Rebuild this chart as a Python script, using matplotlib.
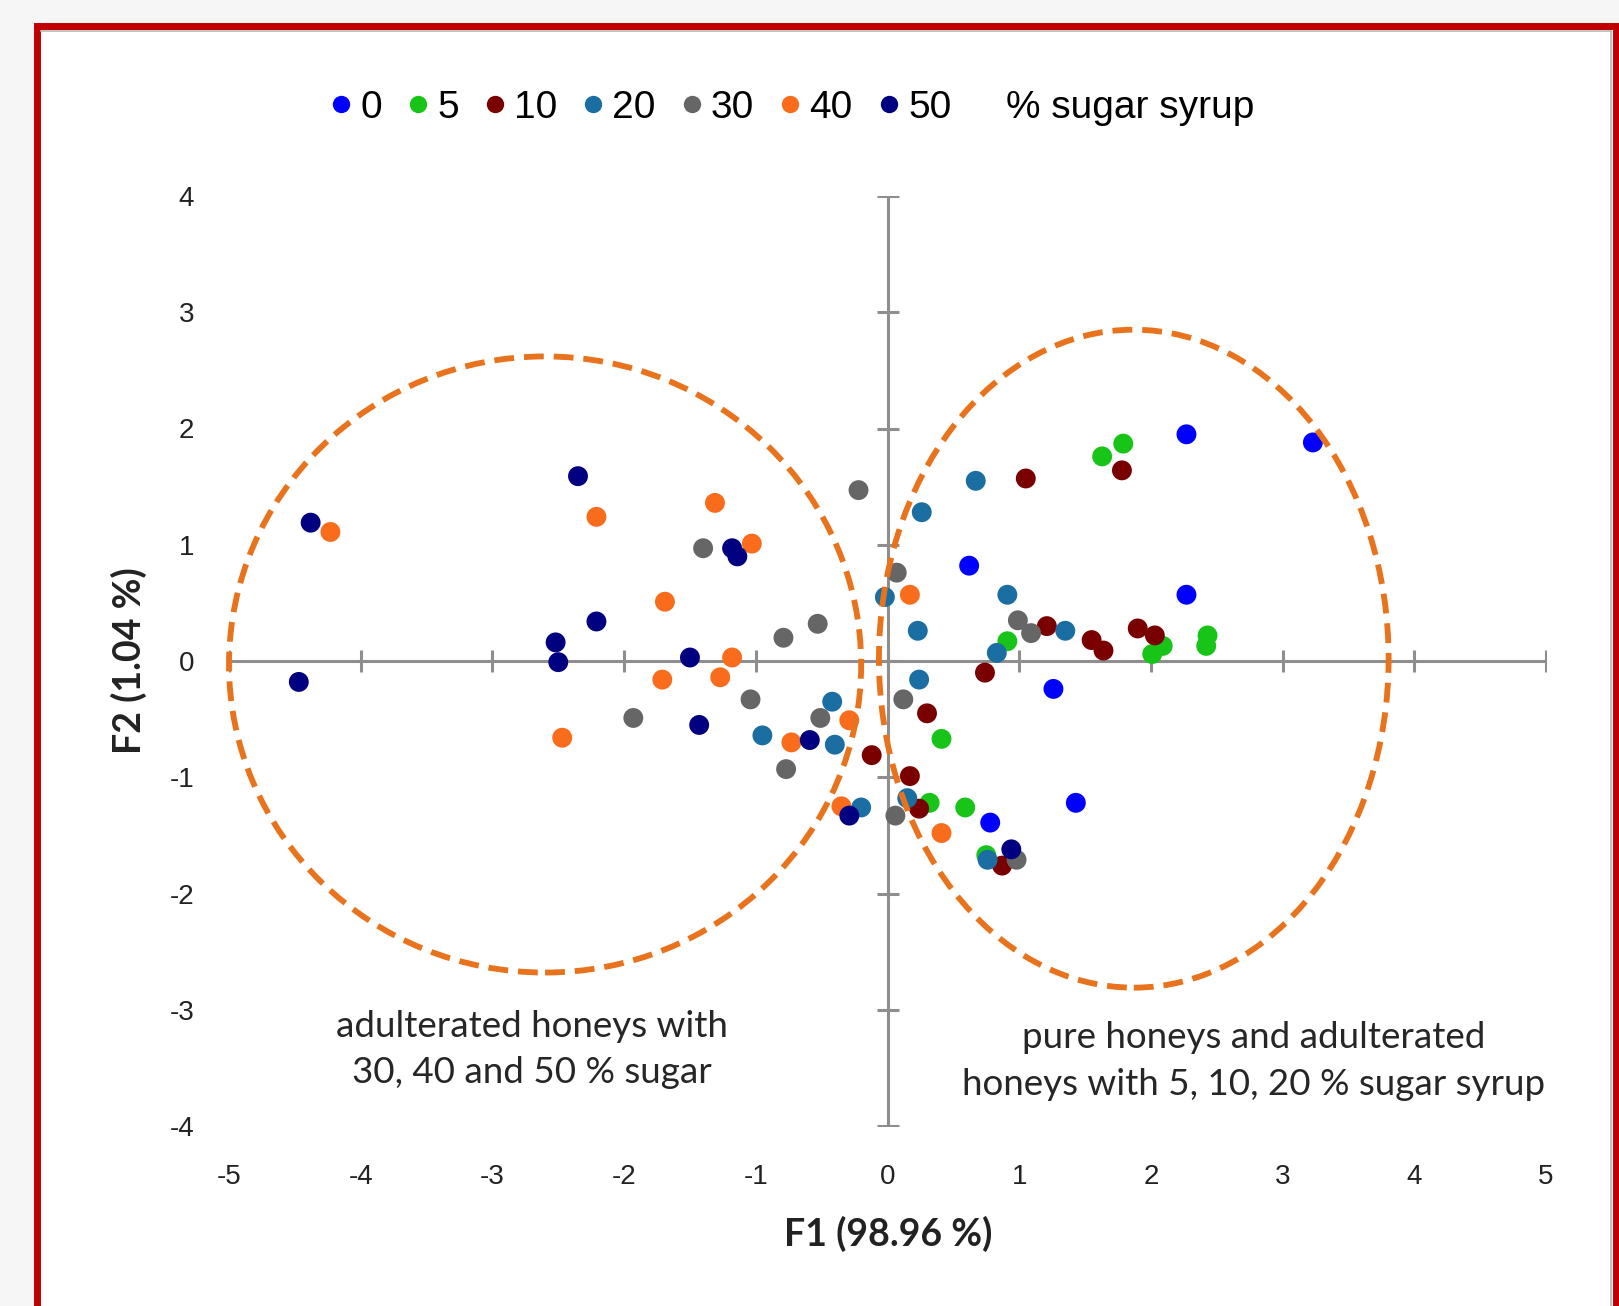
import matplotlib
matplotlib.use('Agg')
import matplotlib.pyplot as plt
from matplotlib.patches import Ellipse, Rectangle
from matplotlib.lines import Line2D

plt.rcParams['axes.unicode_minus'] = False

# sugar syrup levels (%) and the PCA scores
levels = ['0', '5', '10', '20', '30', '40', '50']
colors = ['#0000FF', '#19C419', '#7A0000', '#1B6EA2', '#666666', '#F96C1C', '#000080']

f1_0 = [2.27, 3.23, 0.62, 2.27, 1.26, 1.43, 0.78]
f2_0 = [1.95, 1.88, 0.82, 0.57, -0.24, -1.22, -1.39]

f1_5 = [1.79, 1.63, 0.91, 2.09, 2.01, 2.43, 2.42, 0.41, 0.32, 0.59, 0.75]
f2_5 = [1.87, 1.76, 0.17, 0.13, 0.06, 0.22, 0.13, -0.67, -1.22, -1.26, -1.67]

f1_10 = [1.78, 1.05, 1.21, 1.55, 1.64, 1.90, 2.03, 0.74, 0.30, -0.12, 0.17, 0.24, 0.87]
f2_10 = [1.64, 1.57, 0.30, 0.18, 0.09, 0.28, 0.22, -0.10, -0.45, -0.81, -0.99, -1.27, -1.76]

f1_20 = [0.67, 0.26, -0.02, 0.91, 0.23, 1.35, 0.83, 0.24, -0.42, -0.95, -0.40, -0.20, 0.15, 0.76]
f2_20 = [1.55, 1.28, 0.55, 0.57, 0.26, 0.26, 0.07, -0.16, -0.35, -0.64, -0.72, -1.26, -1.18, -1.71]

f1_30 = [-0.22, -1.40, 0.07, -0.53, -0.79, 0.99, 1.09, -1.93, -1.04, 0.12, -0.51, -0.77, 0.06, 0.98]
f2_30 = [1.47, 0.97, 0.76, 0.32, 0.20, 0.35, 0.24, -0.49, -0.33, -0.33, -0.49, -0.93, -1.33, -1.71]

f1_40 = [-4.23, -2.21, -1.31, -1.03, 0.17, -1.69, -1.18, -1.71, -1.27, -2.47, -0.29, -0.73, -0.35, 0.41]
f2_40 = [1.11, 1.24, 1.36, 1.01, 0.57, 0.51, 0.03, -0.16, -0.14, -0.66, -0.51, -0.70, -1.25, -1.48]

f1_50 = [-4.38, -2.35, -2.21, -2.52, -2.50, -4.47, -1.18, -1.14, -1.50, -1.43, -0.59, -0.29, 0.94]
f2_50 = [1.19, 1.59, 0.34, 0.16, -0.01, -0.18, 0.97, 0.90, 0.03, -0.55, -0.68, -1.33, -1.62]

f1_all = [f1_0, f1_5, f1_10, f1_20, f1_30, f1_40, f1_50]
f2_all = [f2_0, f2_5, f2_10, f2_20, f2_30, f2_40, f2_50]

xticks = [-5, -4, -3, -2, -1, 0, 1, 2, 3, 4, 5]
yticks = [-4, -3, -2, -1, 0, 1, 2, 3, 4]

W, H = 1619, 1306
fig = plt.figure(figsize=(W / 100, H / 100), dpi=100, facecolor='#F6F6F6')

# red frame around the chart
frame = Rectangle((36.5 / W, -0.05), (1616 - 36.5) / W, 1.05 - 26.5 / H,
                  transform=fig.transFigure, facecolor='white',
                  edgecolor='#C00000', linewidth=5, zorder=-5)
fig.add_artist(frame)
fig.add_artist(Line2D([41 / W, 1611 / W], [1 - 31 / H, 1 - 31 / H],
                      transform=fig.transFigure, color='#B8B8B8', lw=1.2, zorder=-4))
fig.add_artist(Line2D([1611 / W, 1611 / W], [1 - 31 / H, 0],
                      transform=fig.transFigure, color='#B8B8B8', lw=1.2, zorder=-4))

ax = fig.add_axes([229 / W, 1 - 1126 / H, 1317 / W, 930 / H])
ax.set_facecolor('none')
ax.set_xlim(-5, 5)
ax.set_ylim(-4, 4)
for s in ax.spines.values():
    s.set_visible(False)

ax.set_xticks(xticks)
ax.set_yticks(yticks)
ax.tick_params(length=0, labelsize=20, labelcolor='#222222')
ax.tick_params(axis='x', pad=27)
ax.tick_params(axis='y', pad=25)
for lab in ax.get_xticklabels() + ax.get_yticklabels():
    lab.set_fontfamily('Liberation Sans')

# axes crossing at the origin
axis_col = '#8E8E8E'
ax.plot([xticks[0], xticks[-1]], [0, 0], color=axis_col, lw=2.2, zorder=1)
ax.plot([0, 0], [yticks[0], yticks[-1]], color=axis_col, lw=2.2, zorder=1)
ax.plot(xticks, [0] * len(xticks), linestyle='none', marker='|', markersize=16,
        mew=2.2, color=axis_col, zorder=1)
ax.plot([0] * len(yticks), yticks, linestyle='none', marker='_', markersize=16,
        mew=2.2, color=axis_col, zorder=1)

for x, y, c in zip(f1_all, f2_all, colors):
    ax.scatter(x, y, s=205, color=c, edgecolors='none', zorder=3)

# group ellipses
ell_col = '#E8731C'
dash = (0, (3.4, 1.7))
ax.add_patch(Ellipse((-2.6, -0.03), 4.8, 5.3, fill=False, edgecolor=ell_col,
                     lw=4.2, linestyle=dash, zorder=4, clip_on=False))
ax.add_patch(Ellipse((1.87, 0.02), 3.87, 5.66, fill=False, edgecolor=ell_col,
                     lw=4.2, linestyle=dash, zorder=4, clip_on=False))

ax.text(-2.70, -3.34, 'adulterated honeys with\n30, 40 and 50 % sugar', ha='center',
        va='center', fontsize=26.5, family='Lato', color='#262626', linespacing=1.5)
ax.text(2.78, -3.44, 'pure honeys and adulterated\nhoneys with 5, 10, 20 % sugar syrup',
        ha='center', va='center', fontsize=26.5, family='Lato', color='#262626',
        linespacing=1.5)

fig.text(888 / W, 1 - 1234 / H, 'F1 (98.96 %)', ha='center', va='center',
         fontsize=27, family='Lato', fontweight='bold', color='#222222')
fig.text(129 / W, 1 - 661 / H, 'F2 (1.04 %)', ha='center', va='center', rotation=90,
         fontsize=27, family='Lato', fontweight='bold', color='#222222')

handles = [Line2D([], [], linestyle='none', marker='o', markersize=12.5, color=c,
                  markeredgewidth=0) for c in colors]
handles.append(Line2D([], [], linestyle='none'))
fig.legend(handles, levels + ['% sugar syrup'], ncol=8, loc='center',
           bbox_to_anchor=(792 / W, 1 - 108 / H), frameon=False,
           prop={'family': 'Liberation Sans', 'size': 28},
           handlelength=0.6, handletextpad=0.2, columnspacing=0.62)

fig.savefig('out.png', dpi=100, facecolor=fig.get_facecolor())
